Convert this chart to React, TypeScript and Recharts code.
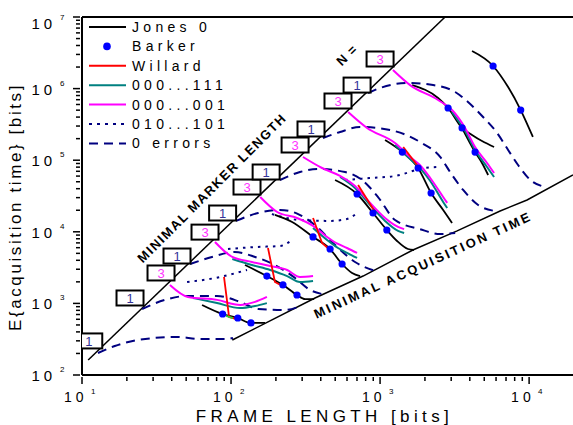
import React from 'react';
import { ComposedChart, Line, Scatter, XAxis, YAxis, ReferenceLine, ReferenceDot, Legend } from 'recharts';

type Pt = [number, number];

const FONT = '"Liberation Sans", Arial, sans-serif';
const NAVY = '#000080';

// axis ticks (decades get a label, the rest are minor ticks)
const X_TICKS = [10, 20, 30, 40, 50, 60, 70, 80, 90, 100, 200, 300, 400, 500, 600, 700, 800, 900,
  1000, 2000, 3000, 4000, 5000, 6000, 7000, 8000, 9000, 10000];
const Y_TICKS = [100, 200, 300, 400, 500, 600, 700, 800, 900, 1000, 2000, 3000, 4000, 5000, 6000, 7000, 8000, 9000,
  10000, 20000, 30000, 40000, 50000, 60000, 70000, 80000, 90000, 100000, 200000, 300000, 400000, 500000, 600000,
  700000, 800000, 900000, 1000000, 2000000, 3000000, 4000000, 5000000, 6000000, 7000000, 8000000, 9000000, 10000000];

// bounds
const markerLine: Pt[] = [[11, 162], [2730, 1.0e7]];
const acqLine: Pt[] = [[102, 308], [366, 1190], [769, 2410], [1660, 5570], [3290, 10300], [6390, 19500], [9690, 27800], [19700, 62100]];

// 0 errors (dashed)
const dash1: Pt[] = [[12.8, 203], [16.6, 254], [23.8, 308], [43.4, 340], [61.9, 318], [94, 318], [103, 329]];
const dash2: Pt[] = [[25.3, 836], [36.1, 1120], [50.7, 1270], [80.5, 1270], [115, 1050], [152, 836], [230, 809], [282, 891]];
const dash3: Pt[] = [[53.1, 3550], [74.5, 4450], [106, 5220], [145, 4450], [197, 3440], [269, 2260], [339, 1540], [408, 1350]];
const dash4: Pt[] = [[108, 14200], [152, 18300], [213, 20200], [282, 17700], [366, 12400], [499, 6540], [679, 3790], [925, 2840]];
const dash5: Pt[] = [[213, 52900], [290, 68400], [384, 75400], [582, 68400], [757, 52900], [969, 30600], [1260, 14600], [1850, 10900], [2530, 9310], [3190, 9620]];
const dash6: Pt[] = [[414, 204000], [539, 248000], [734, 291000], [1170, 264000], [1850, 180000], [2530, 111000], [3040, 62100], [3610, 38400], [4550, 23700], [5910, 19500]];
const dash7: Pt[] = [[830, 869000], [1000, 1020000], [1520, 1200000], [2270, 1120000], [3190, 897000], [3890, 650000], [4910, 401000], [6100, 240000], [7230, 139000], [8430, 85700], [10200, 52900], [12800, 42200]];

// 010...101 (dotted)
const dot2: Pt[] = [[50.7, 1990], [78, 2260], [128, 2930]];
const dot3: Pt[] = [[95.4, 5750], [145, 6130], [213, 6340], [257, 7690]];
const dot4: Pt[] = [[188, 17700], [290, 14600], [462, 14200], [600, 15100], [701, 18300]];
const dot5: Pt[] = [[582, 52900], [857, 56400], [1260, 60200], [2000, 77800], [2530, 80400]];

// 000...001 (magenta)
const mag2: Pt[] = [[38.9, 1810], [51.4, 1230], [80.5, 1120], [115, 951], [145, 1050], [174, 1230]];
const mag3: Pt[] = [[78, 7210], [102, 4450], [138, 3790], [183, 3330], [238, 2930], [290, 2340], [355, 2410]];
const mag4: Pt[] = [[157, 30600], [204, 18900], [277, 15600], [355, 12100], [441, 8470], [522, 6760], [600, 5940], [701, 5060]];
const mag5: Pt[] = [[304, 111000], [408, 77800], [539, 60200], [679, 43600], [857, 25300], [1080, 15600], [1320, 11700], [1450, 10900]];
const mag6: Pt[] = [[610, 471000], [818, 282000], [1260, 174000], [1590, 111000], [1850, 85700], [2170, 56400], [2650, 30600], [2820, 25300]];
const mag7: Pt[] = [[1220, 1820000], [1590, 1120000], [2450, 693000], [3040, 502000], [3720, 282000], [4340, 153000], [5220, 91400], [5820, 66200]];

// 000...111 (teal)
const teal2: Pt[] = [[55.6, 1190], [80.5, 1010], [115, 860], [145, 920], [174, 1010]];
const teal3: Pt[] = [[102, 4170], [138, 3440], [183, 2930], [238, 2410], [290, 1990], [355, 2060]];
const teal4: Pt[] = [[355, 11300], [441, 7690], [522, 5940], [600, 5060], [701, 4310]];
const teal5: Pt[] = [[539, 58300], [679, 40900], [857, 23700], [1080, 14200], [1320, 10300], [1450, 9620]];
const teal6: Pt[] = [[1260, 163000], [1590, 104000], [1850, 77800], [2170, 51300], [2650, 26100], [2820, 21500]];
const teal7: Pt[] = [[3040, 471000], [3720, 256000], [4340, 139000], [5220, 80400], [5820, 58300]];

// Jones 0 (black)
const jones2: Pt[] = [[63.9, 951], [87.8, 711], [111, 625], [136, 533], [169, 533]];
const jones3: Pt[] = [[124, 3440], [174, 2410], [223, 1810], [277, 1310], [314, 1150], [361, 1150]];
const jones4: Pt[] = [[197, 17200], [257, 13700], [355, 8470], [462, 5750], [556, 3550], [649, 2660], [734, 2410]];
const jones5: Pt[] = [[499, 52900], [701, 33700], [897, 18300], [1110, 10600], [1300, 7440], [1540, 5750], [1690, 5570]];
const jones6: Pt[] = [[1080, 191000], [1410, 130000], [1800, 77800], [2200, 34800], [2650, 20200], [3040, 13300]];
const jones7: Pt[] = [[1640, 1120000], [2450, 739000], [2860, 536000], [3550, 282000], [4140, 225000], [4830, 185000], [5820, 153000]];
const jones7b: Pt[] = [[3550, 282000], [4340, 130000], [4830, 91400], [5310, 62100]];
const jones8: Pt[] = [[4140, 3350000], [5730, 2070000], [7230, 1050000], [8780, 502000], [10600, 211000]];

// Willard (red)
const will2: Pt[] = [[89.7, 2340], [97, 646], [115, 586]];
const will3: Pt[] = [[177, 5940], [197, 1990], [227, 1690]];
const will4: Pt[] = [[355, 15600], [408, 6980], [462, 5570]];
const will5: Pt[] = [[712, 45100], [925, 18900]];
const will6: Pt[] = [[1430, 153000], [1770, 85700]];
const green2: Pt[] = [[92.5, 668], [103, 625]];

// Barker (dots)
const barker: Pt[] = [
  [87.8, 711], [111, 625], [136, 533],
  [174, 2410], [223, 1810], [277, 1310],
  [355, 8470], [462, 5750], [556, 3550],
  [701, 33700], [897, 18300], [1110, 10600],
  [1410, 130000], [1800, 77800], [2200, 34800],
  [2860, 536000], [3550, 282000], [4340, 130000],
  [5730, 2070000], [8780, 502000],
];

// N = boxes along the marker line
const BOX_X = [11.1, 21.0, 33.9, 43.4, 66.9, 87.8, 128, 172, 269, 344, 522, 701, 1000];
const BOX_Y = [299, 1190, 2660, 4590, 9900, 18300, 42200, 68400, 163000, 273000, 671000, 1120000, 2590000];
const BOX_N = ['1', '1', '3', '1', '3', '1', '3', '1', '3', '1', '3', '1', '3'];

const NOTES = [
  { text: 'MINIMAL MARKER LENGTH', x: 74.5, y: 40900, angle: -45, spacing: 1.5 },
  { text: 'MINIMAL ACQUISITION TIME', x: 1940, y: 3440, angle: -24.6, spacing: 2.5 },
  { text: 'N =', x: 600, y: 2940000, angle: -45, spacing: 1 },
];

const LEGEND = [
  { name: 'Jones 0', color: '#000', dash: undefined as string | undefined, dot: false },
  { name: 'Barker', color: '#0000ff', dash: undefined, dot: true },
  { name: 'Willard', color: '#ff0000', dash: undefined, dot: false },
  { name: '000...111', color: '#008080', dash: undefined, dot: false },
  { name: '000...001', color: '#ff00ff', dash: undefined, dot: false },
  { name: '010...101', color: NAVY, dash: '3 5', dot: false },
  { name: '0 errors', color: NAVY, dash: '9 6', dot: false },
];

const toPts = (a: Pt[]) => a.map(([x, y]) => ({ x, y }));
const boxes = BOX_X.map((x, i) => ({ x, y: BOX_Y[i], n: BOX_N[i] }));
const isMajor = (v: number) => Math.abs(Math.log10(v) - Math.round(Math.log10(v))) < 1e-6;

const XTick = (props: any) => {
  const { x, y, payload } = props;
  const v = payload.value;
  const major = isMajor(v);
  return (
    <g>
      <line x1={x} x2={x} y1={y} y2={y + (major ? 7 : 4)} stroke="#000" strokeWidth={1.5} />
      {major && (
        <g fontFamily={FONT} fill="#000">
          <text x={x - 18} y={y + 25} fontSize={14} letterSpacing={4}>10</text>
          <text x={x + 9} y={y + 17} fontSize={8}>{Math.round(Math.log10(v))}</text>
        </g>
      )}
    </g>
  );
};

const YTick = (props: any) => {
  const { x, y, payload } = props;
  const v = payload.value;
  const major = isMajor(v);
  // top label sits a little below its tick, as in the source figure
  const ly = v >= 1e7 ? y + 6 : y;
  return (
    <g>
      <line x1={x - (major ? 7 : 4)} x2={x} y1={y} y2={y} stroke="#000" strokeWidth={1.5} />
      {major && (
        <g fontFamily={FONT} fill="#000">
          <text x={x - 48.5} y={ly + 6} fontSize={15} letterSpacing={4}>10</text>
          <text x={x - 20} y={ly - 3} fontSize={8}>{Math.round(Math.log10(v))}</text>
        </g>
      )}
    </g>
  );
};

const XTitle = (props: any) => {
  const { viewBox } = props;
  return (
    <text x={viewBox.x + viewBox.width / 2 - 3} y={viewBox.y + 47} textAnchor="middle" fontFamily={FONT}
      fontSize={17} letterSpacing={4.4} fill="#000">FRAME LENGTH [bits]</text>
  );
};

const YTitle = (props: any) => {
  const { viewBox } = props;
  const cy = viewBox.y + viewBox.height / 2 + 11;
  return (
    <text x={21} y={cy} transform={`rotate(-90, 21, ${cy})`} textAnchor="middle" fontFamily={FONT}
      fontSize={17} letterSpacing={2.6} fill="#000">E{'{'}acquisition time{'}'} [bits]</text>
  );
};

const BoxShape = (props: any) => {
  const { cx, cy, payload } = props;
  return (
    <g>
      <rect x={cx - 13.5} y={cy - 7.5} width={27} height={15} fill="#fff" stroke="#000" strokeWidth={2} />
      <text x={cx} y={cy + 5} textAnchor="middle" fontFamily={FONT} fontSize={13}
        fill={payload.n === '1' ? '#333399' : '#ff33ff'}>{payload.n}</text>
    </g>
  );
};

const LegendBox = () => (
  <svg width={240} height={155} style={{ display: 'block' }}>
    {LEGEND.map((it, i) => {
      const ry = 27 + i * 19.4;
      return (
        <g key={it.name}>
          {it.dot
            ? <circle cx={107} cy={ry} r={3.8} fill={it.color} />
            : <line x1={89} x2={126} y1={ry} y2={ry} stroke={it.color} strokeWidth={2} strokeDasharray={it.dash} />}
          <text x={132} y={ry + 5} fontFamily={FONT} fontSize={14} letterSpacing={4.3} fill="#000">{it.name}</text>
        </g>
      );
    })}
  </svg>
);

const curve = (key: string, pts: Pt[], color: string, width = 2, dash?: string, type: 'linear' | 'monotone' = 'monotone') => (
  <Line key={key} data={toPts(pts)} dataKey="y" type={type} stroke={color} strokeWidth={width}
    strokeDasharray={dash} dot={false} activeDot={false} isAnimationActive={false} legendType="none" />
);

export default function App() {
  const dashed = [dash1, dash2, dash3, dash4, dash5, dash6, dash7];
  const dotted = [dot2, dot3, dot4, dot5];
  const jones = [jones2, jones3, jones4, jones5, jones6, jones7, jones7b, jones8];
  const teal = [teal2, teal3, teal4, teal5, teal6, teal7];
  const magenta = [mag2, mag3, mag4, mag5, mag6, mag7];
  const willard = [will2, will3, will4, will5, will6];

  return (
    <div style={{ position: 'absolute', left: 0, top: 0, width: 573, height: 425, background: '#fff', overflow: 'hidden' }}>
      <ComposedChart width={573} height={425} margin={{ top: 17, right: 0, bottom: 0, left: 0 }}>
        <XAxis dataKey="x" type="number" scale="log" domain={[10, 19700]} allowDataOverflow ticks={X_TICKS}
          interval={0} tick={<XTick />} tickLine={false} tickSize={0} height={50}
          axisLine={{ stroke: '#000', strokeWidth: 2 }} label={<XTitle />} />
        <YAxis dataKey="y" type="number" scale="log" domain={[100, 1e7]} allowDataOverflow ticks={Y_TICKS}
          interval={0} tick={<YTick />} tickLine={false} tickSize={0} width={82}
          axisLine={{ stroke: '#000', strokeWidth: 2 }} label={<YTitle />} />
        <ReferenceLine y={1e7} stroke="#000" strokeWidth={2} />

        {curve('marker', markerLine, '#000', 1.5, undefined, 'linear')}
        {curve('acq', acqLine, '#000', 1.5, undefined, 'linear')}
        {dashed.map((c, i) => curve('d' + i, c, NAVY, 2, '9 6'))}
        {dotted.map((c, i) => curve('o' + i, c, NAVY, 2, '2.5 5'))}
        {jones.map((c, i) => curve('j' + i, c, '#000', 1.8))}
        {teal.map((c, i) => curve('t' + i, c, '#008080', 2))}
        {magenta.map((c, i) => curve('m' + i, c, '#ff00ff', 2))}
        {willard.map((c, i) => curve('w' + i, c, '#ff0000', 1.8, undefined, 'linear'))}
        {curve('g', green2, '#33cc33', 1.8, undefined, 'linear')}

        <Scatter data={toPts(barker)} dataKey="y" fill="#0000ff" isAnimationActive={false} legendType="none"
          shape={(p: any) => <circle cx={p.cx} cy={p.cy} r={3.6} fill="#0000ff" />} />
        <Scatter data={boxes} dataKey="y" isAnimationActive={false} legendType="none" shape={<BoxShape />} />

        {NOTES.map((n) => (
          <ReferenceDot key={n.text} x={n.x} y={n.y} r={0}
            shape={(p: any) => (
              <text x={p.cx} y={p.cy} textAnchor="middle" dominantBaseline="central"
                transform={`rotate(${n.angle}, ${p.cx}, ${p.cy})`} fontFamily={FONT} fontSize={13}
                fontWeight="bold" letterSpacing={n.spacing} fill="#000">{n.text}</text>
            )} />
        ))}

        <Legend content={<LegendBox />} layout="horizontal" verticalAlign="middle" align="center"
          wrapperStyle={{ left: 0, top: 0, width: 240, height: 155 }} />
      </ComposedChart>
    </div>
  );
}
